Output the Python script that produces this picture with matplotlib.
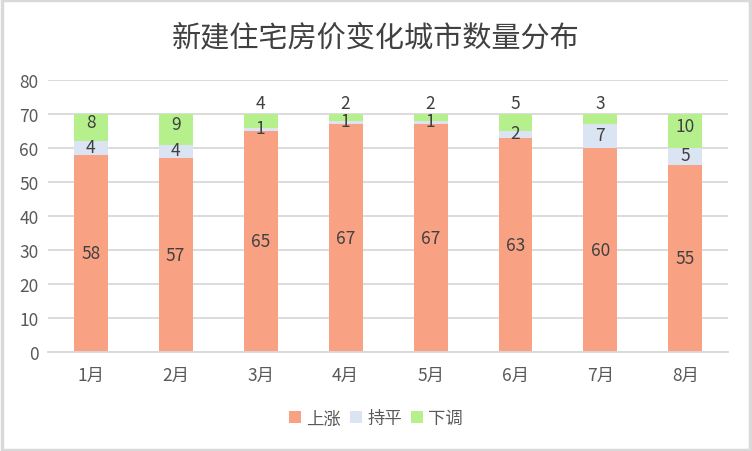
import matplotlib.pyplot as plt
from matplotlib.patches import Rectangle

plt.rcParams['font.family'] = ['Noto Sans CJK SC', 'DejaVu Sans']

months = ['1月', '2月', '3月', '4月', '5月', '6月', '7月', '8月']
up = [58, 57, 65, 67, 67, 63, 60, 55]
flat = [4, 4, 1, 1, 1, 2, 7, 5]
down = [8, 9, 4, 2, 2, 5, 3, 10]

c_up = '#F9A183'
c_flat = '#DAE4F2'
c_down = '#B5F08C'
grid_c = '#D9D9D9'
txt_c = '#595959'

fig = plt.figure(figsize=(7.52, 4.52), dpi=100)
ax = fig.add_axes([0.064, 0.219, 0.904, 0.602])

x = range(len(months))
w = 0.4
bot2 = [a + b for a, b in zip(up, flat)]
ax.bar(x, up, w, color=c_up, label='上涨', zorder=2)
ax.bar(x, flat, w, bottom=up, color=c_flat, label='持平', zorder=2)
ax.bar(x, down, w, bottom=bot2, color=c_down, label='下调', zorder=2)

lab = dict(ha='center', va='center', fontsize=12.5, color='#404040', zorder=3)
for i in x:
    ax.text(i, up[i] / 2, str(up[i]), **lab)
    ax.text(i, up[i] + flat[i] / 2 + 0.3, str(flat[i]), **lab)
    top = bot2[i] + down[i]
    if down[i] >= 6:
        ax.text(i, bot2[i] + down[i] / 2 + 1.5, str(down[i]), **lab)
    else:
        ax.text(i, top + 3.3, str(down[i]), **lab)

ax.set_xlim(-0.5, 7.5)
ax.set_ylim(0, 80)
ax.set_yticks(range(0, 81, 10))
ax.set_xticks(list(x))
ax.set_xticklabels(months)
ax.yaxis.grid(True, color=grid_c, linewidth=1.3, zorder=0)
ax.set_axisbelow(True)
for s in ['top', 'right', 'left']:
    ax.spines[s].set_visible(False)
ax.spines['bottom'].set_color(grid_c)
ax.spines['bottom'].set_linewidth(1.3)
ax.tick_params(length=0, labelsize=12.5, colors=txt_c, pad=10)
ax.tick_params(axis='y', pad=7)

fig.text(0.5, 0.915, '新建住宅房价变化城市数量分布', ha='center', va='center',
         fontsize=21, color='#404040')

fig.legend(loc='center', bbox_to_anchor=(0.5, 0.072), ncol=3, frameon=False,
           fontsize=12.5, handlelength=0.7, handleheight=0.7, handletextpad=0.3,
           columnspacing=0.5, labelcolor=txt_c)

fig.patches.append(Rectangle((0.002, 0.003), 0.996, 0.994, transform=fig.transFigure,
                             fill=False, edgecolor=grid_c, linewidth=2.5))

fig.savefig('out.png', dpi=100)
